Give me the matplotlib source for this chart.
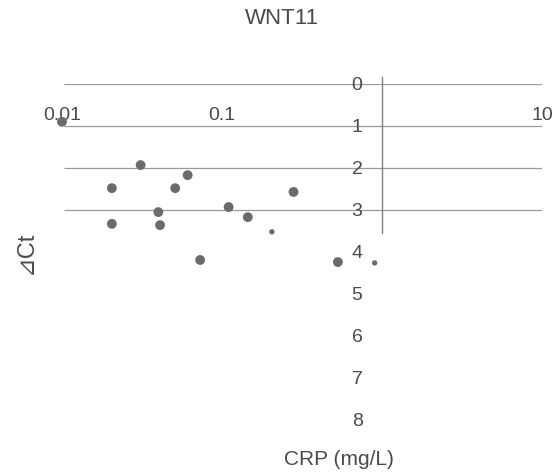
import matplotlib
matplotlib.use("Agg")
import matplotlib.pyplot as plt
import matplotlib.ticker as mticker

plt.rcParams["font.family"] = ["Liberation Sans", "DejaVu Sans", "Noto Sans CJK JP"]

# CRP (mg/L) vs delta Ct
crp = [0.01, 0.031, 0.061, 0.0205, 0.051, 0.28, 0.040, 0.11,
       0.0205, 0.041, 0.145, 0.205, 0.073, 0.53, 0.90]
dct = [0.90, 1.93, 2.17, 2.48, 2.48, 2.57, 3.05, 2.93,
       3.33, 3.36, 3.17, 3.52, 4.19, 4.24, 4.26]
big = [True, True, True, True, True, True, True, True,
       True, True, True, False, True, True, False]

x_ticks = [0.01, 0.1, 1, 10]
x_tick_labels = ["0.01", "0.1", "", "10"]
y_ticks = [0, 1, 2, 3, 4, 5, 6, 7, 8]
grid_rows = [0, 1, 2, 3]

W, H = 554, 474
fig = plt.figure(figsize=(W / 100, H / 100), dpi=100)
fig.patch.set_facecolor("white")
# data box: x 0.01..10 -> px 62..542, y 0..8 -> px 84..420
ax = fig.add_axes([62 / W, 1 - 420 / H, 480 / W, 336 / H])
ax.set_xscale("log")
ax.set_xlim(0.01, 10)
ax.set_ylim(8, 0)

for s in ("right", "bottom", "top"):
    ax.spines[s].set_visible(False)
ax.spines["left"].set_position(("data", 1))
ax.spines["left"].set_bounds(-0.17, 3.55)
ax.spines["left"].set_color("#808080")
ax.spines["left"].set_linewidth(1.0)

ax.hlines(grid_rows, 0.0103, 10, color="#9a9a9a", linewidth=0.9, zorder=1)

ax.xaxis.set_ticks_position("top")
ax.xaxis.set_major_locator(mticker.FixedLocator(x_ticks))
ax.xaxis.set_major_formatter(mticker.FixedFormatter(x_tick_labels))
ax.xaxis.set_minor_locator(mticker.NullLocator())
ax.tick_params(axis="x", length=0, pad=-29, labelsize=14, colors="#4a4a4a")

ax.set_yticks(y_ticks)
ax.set_yticklabels([str(v) for v in y_ticks])
ax.tick_params(axis="y", length=0, pad=14, labelsize=14, colors="#4a4a4a")

for x, y, b in zip(crp, dct, big):
    ax.scatter(x, y, s=50 if b else 15, color="#6b6b6b",
               edgecolors="none", zorder=3, clip_on=False)

ax.text(0.538, 8.93, "CRP (mg/L)", ha="center", va="center",
        fontsize=15, color="#4a4a4a")
fig.text(26 / W, 1 - 252 / H, "⊿Ct", rotation=90, ha="center",
         va="center", fontsize=17, color="#4a4a4a")
fig.text(282 / W, 1 - 19 / H, "WNT11", ha="center", va="center",
         fontsize=16, color="#4a4a4a")

fig.savefig("out.png", dpi=100, facecolor="white")
